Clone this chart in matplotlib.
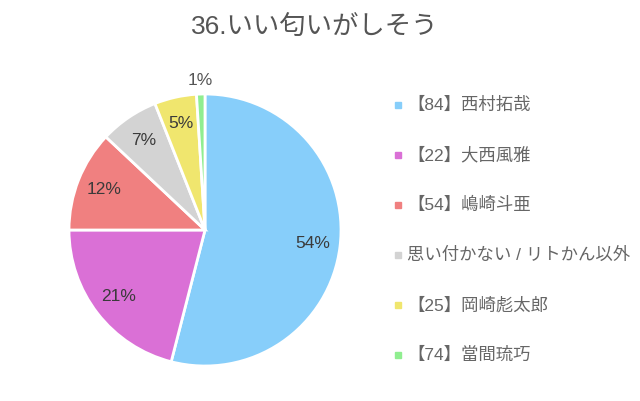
import numpy as np
import matplotlib
matplotlib.use("Agg")
import matplotlib.pyplot as plt
from matplotlib.patches import Rectangle

plt.rcParams['font.family'] = ['Liberation Sans', 'Noto Sans CJK JP', 'DejaVu Sans']

# data
title = '36.いい匂いがしそう'
labels = ['【84】西村拓哉', '【22】大西風雅', '【54】嶋崎斗亜',
          '思い付かない / リトかん以外', '【25】岡崎彪太郎', '【74】當間琉巧']
shares = [54, 21, 12, 7, 5, 1]
colors = ['#87CEFA', '#DA70D6', '#F08080', '#D3D3D3', '#F0E66E', '#90EE90']

W, H = 640, 401
fig = plt.figure(figsize=(W / 100, H / 100), dpi=100)

# pie axes: centre (205, 230) px, radius 136 px
cx, cy, r = 205, 230, 136
ax = fig.add_axes([(cx - r) / W, (H - cy - r) / H, 2 * r / W, 2 * r / H])
wedges, _ = ax.pie(shares, colors=colors, startangle=90, counterclock=False,
                   radius=1, wedgeprops=dict(edgecolor='white', linewidth=2))
ax.set_xlim(-1, 1)
ax.set_ylim(-1, 1)
ax.set_aspect('equal')
ax.axis('off')

# percent labels, small slices pushed outside
for w, v in zip(wedges, shares):
    mid = np.deg2rad((w.theta1 + w.theta2) / 2)
    d = 1.1 if v < 3 else 0.8
    ax.text(d * np.cos(mid), d * np.sin(mid), f'{v}%', ha='center', va='center',
            fontsize=12.5, color='#3a3a3a' if v >= 3 else '#555555', clip_on=False)

fig.text(315 / W, 1 - 28 / H, title, ha='center', va='center',
         fontsize=19, color='#555555')

# legend
for i, (lab, c) in enumerate(zip(labels, colors)):
    y = 1 - (105 + 50 * i) / H
    fig.patches.append(Rectangle((395 / W, y - 3 / H), 6 / W, 6 / H,
                                 transform=fig.transFigure, color=c))
    fig.text(407 / W, y, lab, ha='left', va='center', fontsize=12.5, color='#666666')

fig.savefig('out.png', dpi=100, facecolor='white')
